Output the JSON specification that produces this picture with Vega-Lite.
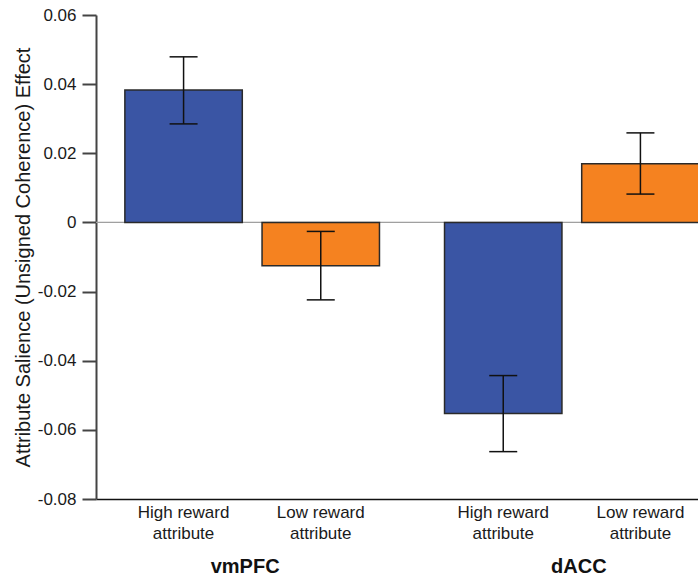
{
  "$schema": "https://vega.github.io/schema/vega-lite/v6.json",
  "width": 602,
  "height": 484,
  "autosize": "none",
  "padding": {"left": 96, "top": 15, "right": 0, "bottom": 80},
  "config": {"view": {"stroke": null}, "font": "Liberation Sans"},
  "data": {
    "values": [
      {"region": "vmPFC", "attribute": "High reward\nattribute", "value": 0.0383, "lo": 0.0285, "hi": 0.0479},
      {"region": "vmPFC", "attribute": "Low reward\nattribute", "value": -0.0125, "lo": -0.0224, "hi": -0.0026},
      {"region": "dACC", "attribute": "High reward\nattribute", "value": -0.0553, "lo": -0.0663, "hi": -0.0443},
      {"region": "dACC", "attribute": "Low reward\nattribute", "value": 0.0170, "lo": 0.0082, "hi": 0.0259}
    ]
  },
  "layer": [
    {
      "mark": {"type": "rule", "color": "#a0a0a0", "strokeWidth": 1},
      "encoding": {"y": {"datum": 0, "type": "quantitative"}}
    },
    {
      "mark": {"type": "bar", "stroke": "#2a2a2a", "strokeWidth": 1.5},
      "encoding": {
        "x": {
          "field": "region", "type": "nominal", "sort": ["vmPFC", "dACC"],
          "scale": {"range": [0, 632], "paddingInner": 0.2035, "paddingOuter": 0.0903},
          "axis": {
            "title": null, "ticks": false, "domainColor": "#111111", "domainWidth": 1.5,
            "labelFontSize": 20, "labelFontWeight": "bold", "labelColor": "#111111",
            "labelPadding": 57, "labelAngle": 0, "labelBaseline": "top",
            "labelOffset": {"condition": {"test": "datum.value == 'vmPFC'", "value": -7}, "value": 7}
          }
        },
        "xOffset": {"field": "attribute", "type": "nominal", "scale": {"paddingInner": 0.144, "paddingOuter": 0}},
        "y": {
          "field": "value", "type": "quantitative",
          "scale": {"domain": [-0.08, 0.06], "nice": false},
          "axis": {
            "values": [-0.08, -0.06, -0.04, -0.02, 0, 0.02, 0.04, 0.06],
            "labelExpr": "datum.value == 0 ? '0' : (datum.value < 0 ? '-' : '') + format(abs(datum.value), '.2f')",
            "title": "Attribute Salience (Unsigned Coherence) Effect",
            "titleFontSize": 20, "titleFontWeight": "normal", "titleColor": "#1a1a1a", "titlePadding": 4,
            "labelFontSize": 17, "labelColor": "#1a1a1a", "labelPadding": 6,
            "tickSize": 14, "tickColor": "#444444", "tickWidth": 2,
            "domainColor": "#444444", "domainWidth": 2, "grid": false
          }
        },
        "color": {"field": "attribute", "type": "nominal", "scale": {"range": ["#3A55A4", "#F58220"]}, "legend": null}
      }
    },
    {
      "mark": {"type": "rule", "color": "#111111", "strokeWidth": 1.5},
      "encoding": {
        "x": {"field": "region", "type": "nominal", "sort": ["vmPFC", "dACC"]},
        "xOffset": {"field": "attribute", "type": "nominal"},
        "y": {"field": "lo", "type": "quantitative"},
        "y2": {"field": "hi"}
      }
    },
    {
      "mark": {"type": "tick", "color": "#111111", "size": 28, "thickness": 1.5, "opacity": 1},
      "encoding": {
        "x": {"field": "region", "type": "nominal", "sort": ["vmPFC", "dACC"]},
        "xOffset": {"field": "attribute", "type": "nominal"},
        "y": {"field": "lo", "type": "quantitative"}
      }
    },
    {
      "mark": {"type": "tick", "color": "#111111", "size": 28, "thickness": 1.5, "opacity": 1},
      "encoding": {
        "x": {"field": "region", "type": "nominal", "sort": ["vmPFC", "dACC"]},
        "xOffset": {"field": "attribute", "type": "nominal"},
        "y": {"field": "hi", "type": "quantitative"}
      }
    },
    {
      "mark": {"type": "text", "baseline": "top", "dy": 6, "fontSize": 17, "lineBreak": "\n", "lineHeight": 21, "color": "#1a1a1a"},
      "encoding": {
        "x": {"field": "region", "type": "nominal", "sort": ["vmPFC", "dACC"]},
        "xOffset": {"field": "attribute", "type": "nominal"},
        "y": {"datum": -0.08, "type": "quantitative"},
        "text": {"field": "attribute"}
      }
    }
  ]
}
